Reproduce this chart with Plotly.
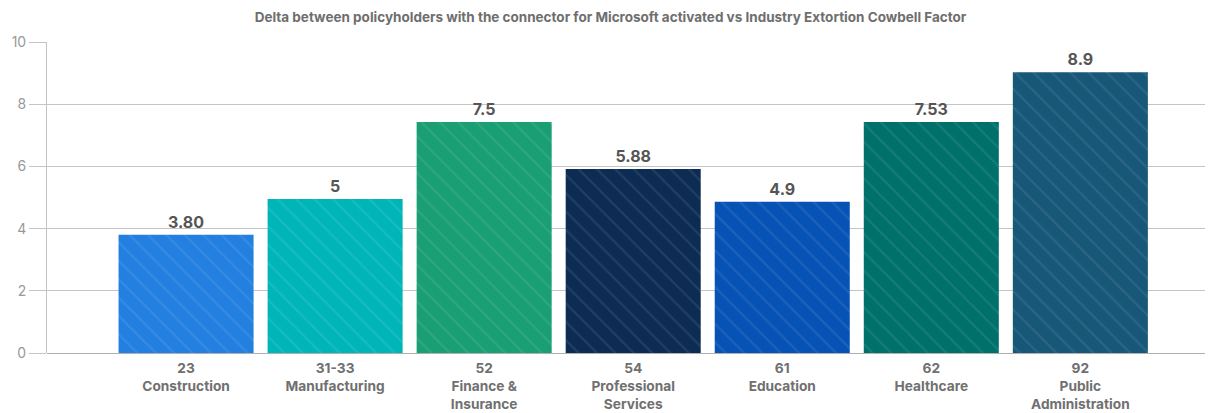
import plotly.graph_objects as go

codes = ["23", "31-33", "52", "54", "61", "62", "92"]
industries = ["Construction", "Manufacturing", "Finance &<br>Insurance", "Professional<br>Services",
              "Education", "Healthcare", "Public<br>Administration"]
values = [3.80, 4.95, 7.43, 5.92, 4.86, 7.43, 9.03]
labels = ["3.80", "5", "7.5", "5.88", "4.9", "7.53", "8.9"]
colors = ["#237fe0", "#00b5b8", "#1a9e74", "#0d2c54", "#0753b5", "#00706a", "#175778"]

ticktext = [f"{c}<br>{n}" for c, n in zip(codes, industries)]
xs = list(range(len(codes)))

fig = go.Figure(go.Bar(
    x=xs, y=values, text=labels, textposition="outside", cliponaxis=False,
    textfont=dict(family="Inter", size=16, color="#555555", weight="bold"),
    marker=dict(color=colors, line=dict(width=0),
                pattern=dict(shape="\\", fgcolor="white", fgopacity=0.09, size=13, solidity=0.15)),
    width=0.906,
))

# the page body adds an 8px offset, so the figure is sized to fill the rest of the window
fig.update_layout(
    width=1205, height=405, autosize=False,
    margin=dict(l=39, r=0, t=34, b=60),
    plot_bgcolor="white", paper_bgcolor="white",
    showlegend=False,
    title=dict(text="Delta between policyholders with the connector for Microsoft activated vs Industry Extortion Cowbell Factor",
               x=0.5, xanchor="center", y=0.978, yanchor="middle",
               font=dict(family="Inter", size=13.5, color="#6e6e6e", weight="bold")),
    xaxis=dict(range=[-0.933, 6.89], tickvals=xs, ticktext=ticktext, showgrid=False, zeroline=False,
               showline=False, ticks="outside", ticklen=3, tickcolor="rgba(0,0,0,0)",
               automargin=False,
               tickfont=dict(family="Inter", size=13.7, color="#707070", weight="bold")),
    yaxis=dict(range=[0, 10], dtick=2, showgrid=True, gridcolor="#c4c4c4", gridwidth=1,
               zeroline=True, zerolinecolor="#b0b0b0", zerolinewidth=1,
               showline=True, linecolor="#c4c4c4", linewidth=1,
               ticks="outside", ticklen=17, tickcolor="#c4c4c4", automargin=False,
               tickfont=dict(family="Inter", size=14, color="#999999")),
)

fig.write_html("out.html")
